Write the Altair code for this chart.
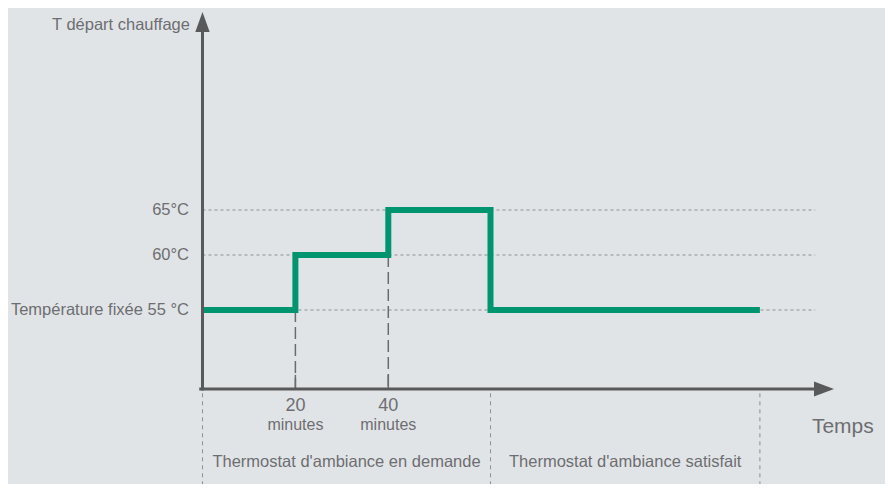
import altair as alt
import pandas as pd

# ---- data (schematic values) ----
step_time = [0, 20, 20, 40, 40, 62, 62, 120]      # minutes
step_temp = [55, 55, 60, 60, 65, 65, 55, 55]      # °C
level_values = [55, 60, 65]
level_labels = ["Température fixée 55 °C", "60°C", "65°C"]
minute_ticks = [20, 40]
minute_numbers = ["20", "40"]
minute_base = [55, 60]
phase_bounds = [0, 62, 120]
phase_labels = ["Thermostat d'ambiance en demande", "Thermostat d'ambiance satisfait"]
y_title = "T départ chauffage"
x_title = "Temps"

# ---- geometry of the schematic ----
X_DOMAIN = [-41.87, 146.93]
Y_DOMAIN = [39.18, 55, 60, 65, 87.44]
Y_RANGE = [476, 302, 247, 202, 0]
AXIS_T = 47.82
GRID_END = 131.9

BG = "#e1e4e7"
AXIS_C = "#58595b"
TEXT_C = "#6d6e71"
GREEN = "#00956f"
GRID_C = "#8c8e90"
FONT = "Liberation Sans"

xs = alt.Scale(domain=X_DOMAIN, nice=False, zero=False)
ys = alt.Scale(domain=Y_DOMAIN, range=Y_RANGE, nice=False, zero=False)


def X(f):
    return alt.X(f, type="quantitative", scale=xs, axis=None)


def Y(f):
    return alt.Y(f, type="quantitative", scale=ys, axis=None)


# grid lines
grid_df = pd.DataFrame({"y": level_values, "x0": [0] * 3, "x1": [GRID_END] * 3})
grid = alt.Chart(grid_df).mark_rule(color=GRID_C, strokeWidth=1, strokeDash=[3, 3]).encode(
    x=X("x0"), x2="x1", y=Y("y"))

# phase separators below the axis
phase_df = pd.DataFrame({"x": phase_bounds, "y0": [AXIS_T - 0.4] * 3, "y1": [Y_DOMAIN[0]] * 3})
phase_lines = alt.Chart(phase_df).mark_rule(color=GRID_C, strokeWidth=1, strokeDash=[4, 4]).encode(
    x=X("x"), y=Y("y0"), y2="y1")

# long dashed drops at 20 and 40 minutes
drop_df = pd.DataFrame({"x": minute_ticks, "y0": minute_base, "y1": [AXIS_T] * 2})
drops = alt.Chart(drop_df).mark_rule(color="#6a6b6d", strokeWidth=1.5, strokeDash=[12, 5]).encode(
    x=X("x"), y=Y("y0"), y2="y1")
tick_df = pd.DataFrame({"x": minute_ticks, "y0": [AXIS_T] * 2, "y1": [49.1] * 2})
ticks = alt.Chart(tick_df).mark_rule(color="#6a6b6d", strokeWidth=1.5).encode(
    x=X("x"), y=Y("y0"), y2="y1")

# green step line
step_df = pd.DataFrame({"t": step_time, "T": step_temp, "i": list(range(len(step_time)))})
step = alt.Chart(step_df).mark_line(color=GREEN, strokeWidth=6, strokeJoin="miter", strokeCap="butt").encode(
    x=X("t"), y=Y("T"), order="i:Q")

# axes
xaxis_df = pd.DataFrame({"x0": [-0.7], "x1": [132.3], "y": [AXIS_T]})
xaxis = alt.Chart(xaxis_df).mark_rule(color=AXIS_C, strokeWidth=3).encode(
    x=X("x0"), x2="x1", y=Y("y"))
yaxis_df = pd.DataFrame({"x": [0], "y0": [AXIS_T - 0.15], "y1": [85.2]})
yaxis = alt.Chart(yaxis_df).mark_rule(color=AXIS_C, strokeWidth=3).encode(
    x=X("x"), y=Y("y0"), y2="y1")

xhead = alt.Chart(pd.DataFrame({"x": [133.8], "y": [AXIS_T]})).mark_point(
    shape="M-1,-0.75L1,0L-1,0.75Z", filled=True, size=400, color=AXIS_C, opacity=1).encode(
    x=X("x"), y=Y("y"))
yhead = alt.Chart(pd.DataFrame({"x": [0], "y": [85.89]})).mark_point(
    shape="M-0.72,1L0,-1L0.72,1Z", filled=True, size=400, color=AXIS_C, opacity=1).encode(
    x=X("x"), y=Y("y"))

# texts
lvl_df = pd.DataFrame({"x": [-2.9] * 3, "y": level_values, "label": level_labels})
lvl_text = alt.Chart(lvl_df).mark_text(align="right", baseline="middle", font=FONT, fontSize=16.5, color=TEXT_C).encode(
    x=X("x"), y=Y("y"), text="label:N")

ytitle = alt.Chart(pd.DataFrame({"x": [-2.7], "y": [85.6], "label": [y_title]})).mark_text(
    align="right", baseline="middle", font=FONT, fontSize=16.5, color=TEXT_C).encode(
    x=X("x"), y=Y("y"), text="label:N")

xtitle = alt.Chart(pd.DataFrame({"x": [131.2], "y": [44.36], "label": [x_title]})).mark_text(
    align="left", baseline="middle", font=FONT, fontSize=21, color=TEXT_C).encode(
    x=X("x"), y=Y("y"), text="label:N")

num_df = pd.DataFrame({"x": minute_ticks, "y": [46.3] * 2, "label": minute_numbers})
num_text = alt.Chart(num_df).mark_text(align="center", baseline="middle", font=FONT, fontSize=18, color=TEXT_C).encode(
    x=X("x"), y=Y("y"), text="label:N")
min_df = pd.DataFrame({"x": minute_ticks, "y": [44.5] * 2, "label": ["minutes"] * 2})
min_text = alt.Chart(min_df).mark_text(align="center", baseline="middle", font=FONT, fontSize=16, color=TEXT_C).encode(
    x=X("x"), y=Y("y"), text="label:N")

ph_df = pd.DataFrame({
    "x": [(phase_bounds[0] + phase_bounds[1]) / 2, (phase_bounds[1] + phase_bounds[2]) / 2],
    "y": [41.18] * 2, "label": phase_labels})
ph_text = alt.Chart(ph_df).mark_text(align="center", baseline="middle", font=FONT, fontSize=16.5, color=TEXT_C).encode(
    x=X("x"), y=Y("y"), text="label:N")

chart = alt.layer(
    grid, phase_lines, drops, ticks, step, xaxis, yaxis, xhead, yhead,
    lvl_text, ytitle, xtitle, num_text, min_text, ph_text
).properties(
    width=877, height=476, padding=0, background=BG,
    autosize=alt.AutoSizeParams(type="none")
).configure_view(stroke=None)

chart.save("out.html", embed_options={"renderer": "svg", "actions": False})
